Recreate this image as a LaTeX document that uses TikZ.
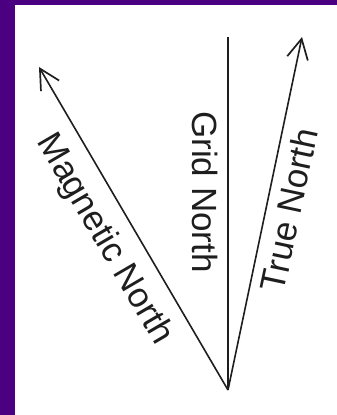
\documentclass[tikz,border=0pt]{standalone}
\usepackage{fontspec}
\setmainfont{Liberation Sans}
\usetikzlibrary{arrows.meta}
\definecolor{framepurple}{RGB}{75,0,130}
\definecolor{ink}{RGB}{30,30,30}
\begin{document}
\begin{tikzpicture}[x=1pt,y=1pt,
  northline/.style={draw=ink,line width=1.6pt},
  barb/.style={-{Straight Barb[length=20pt,width=21pt,line width=1.7pt]}},
  lbl/.style={font=\fontsize{35}{40}\selectfont,text=ink,inner sep=0pt,text height=25pt,text depth=0pt}]
\useasboundingbox (0,0) rectangle (337,415);
\fill[framepurple] (0,0) rectangle (15,415);
\fill[framepurple] (0,410) rectangle (337,415);
\coordinate (apex) at (228,25);
\coordinate (gridtop) at (228,378);
\coordinate (truetip) at (302,378);
\coordinate (magtip) at (39,348);
\draw[northline,line width=1.3pt] (apex) -- (gridtop);
\draw[northline,barb] (apex) -- (truetip);
\draw[northline,barb] (apex) -- (magtip);
\node[lbl,rotate=-90] (gridlbl) at (204.5,223) {Grid North};
\node[lbl,rotate=78] (truelbl) at (289,205) {True North};
\node[lbl,rotate=-59.7] (maglbl) at (107,177) {Magnetic North};
\end{tikzpicture}
\end{document}
